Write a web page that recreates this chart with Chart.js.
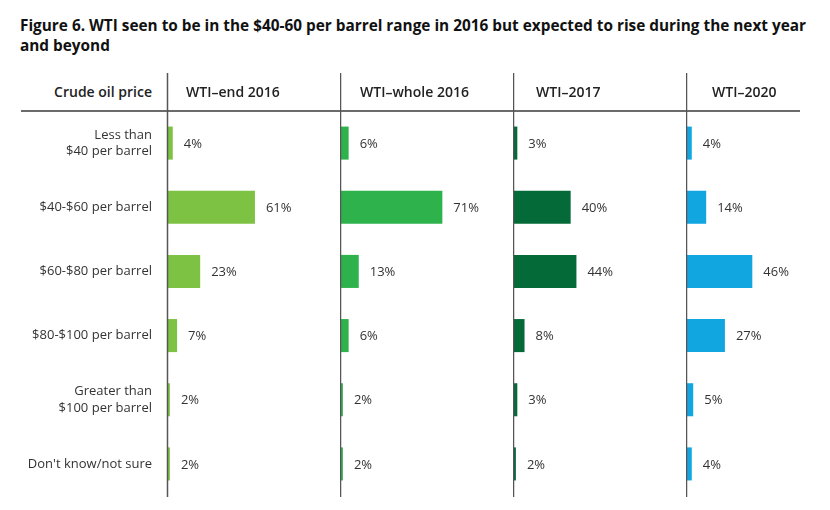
<!DOCTYPE html>
<html><head><meta charset="utf-8">
<script src="https://cdn.jsdelivr.net/npm/chart.js@4.4.0/dist/chart.umd.min.js"></script>
<style>
body{margin:0;width:830px;height:510px;overflow:hidden;background:#fff;font-family:'Open Sans',sans-serif;position:relative}
#title{position:absolute;left:20px;top:15px;font-weight:700;font-size:16px;line-height:20px;color:#111;white-space:nowrap;transform-origin:0 0}
#title div{display:inline-block}
.hdr{position:absolute;top:83px;font-size:14px;line-height:18px;font-weight:600;color:#222;white-space:nowrap}
#hline{position:absolute;left:21px;top:110px;width:779px;height:2px;background:#6b6b6b}
canvas{position:absolute;top:73px}
</style></head><body>
<div id="title"><div id="t1">Figure 6. WTI seen to be in the $40-60 per barrel range in 2016 but expected to rise during the next year</div><br><div>and beyond</div></div>
<div class="hdr" id="h0" style="right:678px">Crude oil price</div>
<div id="hline"></div>
<canvas id="c0" width="340" height="424" style="left:0px"></canvas>
<canvas id="c1" width="173" height="424" style="left:340px"></canvas>
<canvas id="c2" width="173" height="424" style="left:513px"></canvas>
<canvas id="c3" width="173" height="424" style="left:686px"></canvas>
<script>
const categories = [['Less than','$40 per barrel'],'$40-$60 per barrel','$60-$80 per barrel','$80-$100 per barrel',['Greater than','$100 per barrel'],"Don't know/not sure"];
const panelTitles = ['WTI\u2013end 2016','WTI\u2013whole 2016','WTI\u20132017','WTI\u20132020'];
const wtiEnd2016 = [4,61,23,7,2,2];
const wtiWhole2016 = [6,71,13,6,2,2];
const wti2017 = [3,40,44,8,3,2];
const wti2020 = [4,14,46,27,5,4];
const series = [wtiEnd2016, wtiWhole2016, wti2017, wti2020];
const colors = ['#7DC243','#2EB24C','#046A38','#12A6E0'];
const headerLeft = [186,360,536,712];

// fit title width
const t1 = document.getElementById('t1');
const w = t1.getBoundingClientRect().width;
document.getElementById('title').style.transform = 'scaleX(' + (786 / w) + ')';

panelTitles.forEach((t,i)=>{
  const d = document.createElement('div');
  d.className='hdr'; d.style.left = headerLeft[i]+'px'; d.textContent = t;
  document.body.appendChild(d);
});

const linePlugin = {
  id:'panelLine',
  afterDatasetsDraw(chart){
    const ctx = chart.ctx, a = chart.chartArea;
    ctx.save();
    ctx.strokeStyle = '#555'; ctx.lineWidth = 1.5;
    ctx.beginPath();
    ctx.moveTo(a.left+0.5, 0); ctx.lineTo(a.left+0.5, a.bottom+1);
    ctx.stroke();
    ctx.restore();
  }
};
const labelPlugin = {
  id:'valLabels',
  afterDatasetsDraw(chart){
    const ctx = chart.ctx;
    const meta = chart.getDatasetMeta(0);
    const data = chart.data.datasets[0].data;
    ctx.save();
    ctx.font = '13px "Open Sans"';
    ctx.fillStyle = '#333';
    ctx.textAlign = 'left'; ctx.textBaseline = 'middle';
    meta.data.forEach((bar,j)=>{
      ctx.fillText(data[j] + '%', bar.x + 11, bar.y + 1);
    });
    ctx.restore();
  }
};

series.forEach((vals,i)=>{
  const yAxis = {display:i===0, grid:{display:false, drawTicks:false}, border:{display:false},
           ticks:{padding:15, color:'#333', font:{family:'Open Sans', size:13, lineHeight:1.25}}};
  if (i === 0) yAxis.afterFit = function(s){ s.width = 167; s.paddingTop = 0; s.paddingBottom = 0; };
  new Chart(document.getElementById('c'+i), {
    type:'bar',
    data:{labels:categories, datasets:[{data:vals, backgroundColor:colors[i], barPercentage:0.515, categoryPercentage:1}]},
    options:{
      indexAxis:'y', responsive:false, animation:false,
      layout:{padding:{top:38,bottom:1,left:0,right:0}},
      plugins:{legend:{display:false}, tooltip:{enabled:false}},
      scales:{
        x:{display:false, min:0, max:120},
        y:yAxis
      }
    },
    plugins:[linePlugin, labelPlugin]
  });
});
</script>
</body></html>
